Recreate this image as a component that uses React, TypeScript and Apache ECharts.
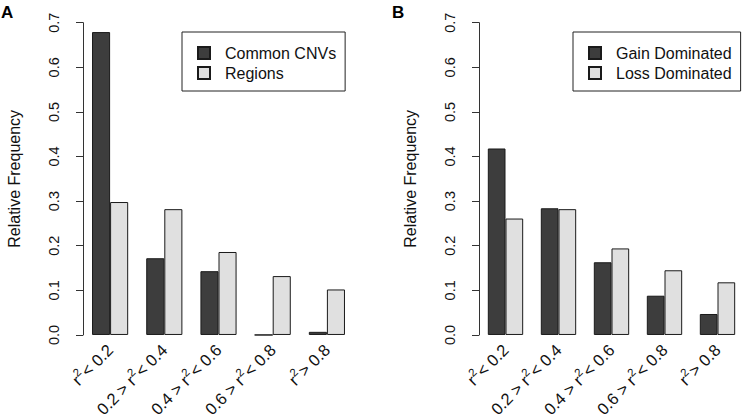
import React, { useEffect, useRef } from "react";
import * as echarts from "echarts";

const categories = ["r² < 0.2", "0.2 > r² < 0.4", "0.4 > r² < 0.6", "0.6 > r² < 0.8", "r² > 0.8"];
const yTicks = ["0.0", "0.1", "0.2", "0.3", "0.4", "0.5", "0.6", "0.7"];

const seriesNamesA = ["Common CNVs", "Regions"];
const commonCNVs = [0.679, 0.172, 0.143, 0.0, 0.007];
const regions = [0.298, 0.282, 0.186, 0.132, 0.102];

const seriesNamesB = ["Gain Dominated", "Loss Dominated"];
const gainDominated = [0.418, 0.284, 0.163, 0.088, 0.047];
const lossDominated = [0.261, 0.282, 0.194, 0.145, 0.118];

const panelLabels = ["A", "B"];
const yTitle = "Relative Frequency";

const DARK = "#3d3d3d";
const LIGHT = "#e0e0e0";
const EDGE = "#1a1a1a";
const FONT = "'Liberation Sans', Arial, Helvetica, sans-serif";

function fmtCat(v: string) {
  const parts = v.split("²");
  if (parts.length < 2) return `{t|${v}}`;
  return `{t|${parts[0]}}{s|2}{t|${parts[1].replace(/^ /, "")}}`;
}

function makeAxes(gridIndex: number) {
  const xAxis = {
    type: "category",
    gridIndex,
    data: categories,
    axisLine: { show: false },
    axisTick: { show: false },
    axisLabel: {
      rotate: 45,
      margin: 12,
      interval: 0,
      color: "#111",
      fontFamily: FONT,
      formatter: fmtCat,
      rich: {
        t: { fontSize: 16.5, fontFamily: FONT, color: "#111" },
        s: { fontSize: 11.5, fontFamily: FONT, color: "#111", padding: [0, 1, 11, 0] },
      },
    },
  };
  const yAxis = {
    type: "value",
    gridIndex,
    min: 0,
    max: 0.7,
    interval: 0.1,
    name: yTitle,
    nameLocation: "middle",
    nameGap: 61,
    nameRotate: 90,
    nameTextStyle: { fontSize: 16, fontFamily: FONT, color: "#111" },
    axisLine: { show: true, lineStyle: { color: "#333", width: 1 } },
    axisTick: { show: true, length: 7, lineStyle: { color: "#333", width: 1 } },
    splitLine: { show: false },
    axisLabel: {
      rotate: 90,
      margin: 22,
      fontSize: 14.5,
      fontFamily: FONT,
      color: "#111",
      formatter: (v: number) => yTicks[Math.round(v * 10)] ?? v.toFixed(1),
    },
  };
  return { xAxis, yAxis };
}

function bar(name: string, data: number[], color: string, idx: number) {
  return {
    type: "bar",
    name,
    data,
    xAxisIndex: idx,
    yAxisIndex: idx,
    barGap: "0%",
    barCategoryGap: "33.3%",
    itemStyle: { color, borderColor: EDGE, borderWidth: 1 },
    emphasis: { disabled: true },
  };
}

function legend(names: string[], left: number) {
  return {
    data: names,
    orient: "vertical",
    left,
    top: 32,
    icon: "rect",
    itemWidth: 12,
    itemHeight: 12,
    itemGap: 4,
    padding: [13, 9, 10, 15],
    borderColor: "#222",
    borderWidth: 1,
    textStyle: { fontSize: 16, fontFamily: FONT, color: "#111", padding: [0, 0, 0, 10] },
  };
}

export default function App() {
  const ref = useRef<HTMLDivElement>(null);
  useEffect(() => {
    if (!ref.current) return;
    const chart = echarts.init(ref.current, null, { renderer: "svg" });
    const a = makeAxes(0);
    const b = makeAxes(1);
    chart.setOption({
      animation: false,
      backgroundColor: "#ffffff",
      textStyle: { fontFamily: FONT },
      grid: [
        { left: 83, top: 22.7, width: 271, height: 312.3 },
        { left: 479, top: 22.7, width: 271, height: 312.3 },
      ],
      xAxis: [a.xAxis, b.xAxis],
      yAxis: [a.yAxis, b.yAxis],
      legend: [legend(seriesNamesA, 182), legend(seriesNamesB, 573)],
      series: [
        bar(seriesNamesA[0], commonCNVs, DARK, 0),
        bar(seriesNamesA[1], regions, LIGHT, 0),
        bar(seriesNamesB[0], gainDominated, DARK, 1),
        bar(seriesNamesB[1], lossDominated, LIGHT, 1),
      ],
      graphic: [
        {
          type: "text",
          left: 1,
          top: 4,
          style: { text: panelLabels[0], fontSize: 17, fontWeight: "bold", fontFamily: FONT, fill: "#000" },
        },
        {
          type: "text",
          left: 392,
          top: 4,
          style: { text: panelLabels[1], fontSize: 17, fontWeight: "bold", fontFamily: FONT, fill: "#000" },
        },
      ],
    });
    return () => chart.dispose();
  }, []);
  return (
    <div
      ref={ref}
      style={{ position: "fixed", left: 0, top: 0, width: 744, height: 420, background: "#fff" }}
    />
  );
}
